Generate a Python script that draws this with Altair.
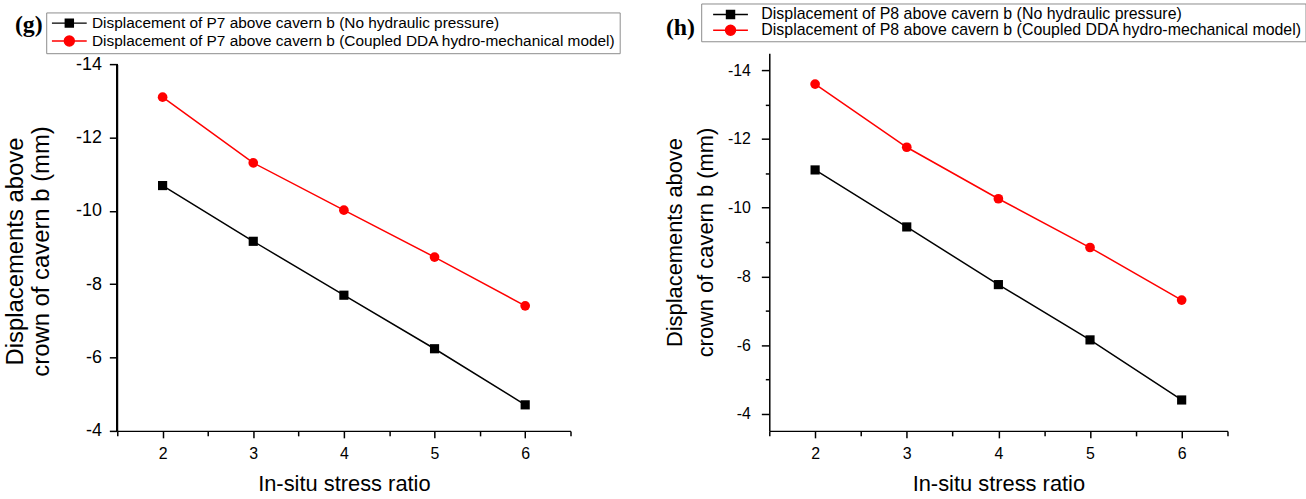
import altair as alt
import pandas as pd

# In-situ stress ratio (x) and crown displacement in mm (y)
stress_ratio = [2, 3, 4, 5, 6]

p7_no_pressure = [-10.69, -9.17, -7.70, -6.24, -4.71]
p7_coupled = [-13.10, -11.31, -10.02, -8.74, -7.41]
p8_no_pressure = [-11.10, -9.44, -7.76, -6.15, -4.40]
p8_coupled = [-13.60, -11.76, -10.26, -8.84, -7.31]

x_ticks = [1.5, 2, 2.5, 3, 3.5, 4, 4.5, 5, 5.5, 6, 6.5]
y_ticks = list(range(-14, -3))

FONT = "Liberation Sans"
BLACK = "#000000"
RED = "#ff0000"

# legend keys: a short line through the marker, as one custom symbol path
KEY_SQUARE = "M-3.5,0H3.5M-0.8,-0.8H0.8V0.8H-0.8Z"
KEY_CIRCLE = "M-3.5,0H3.5M-1,0A1,1,0,1,0,1,0A1,1,0,1,0,-1,0Z"


def panel(point, no_pressure, coupled, y_domain, width, tag, tag_dx, tag_dy,
          legend_box, y_style, axis_from=None):
    names = [
        f"Displacement of {point} above cavern b (No hydraulic pressure)",
        f"Displacement of {point} above cavern b (Coupled DDA hydro-mechanical model)",
    ]
    df = pd.DataFrame({
        "ratio": stress_ratio * 2,
        "disp": no_pressure + coupled,
        "series": [names[0]] * len(stress_ratio) + [names[1]] * len(stress_ratio),
    })

    x_axis = alt.Axis(
        values=x_ticks,
        labelExpr="datum.value % 1 === 0 ? toString(datum.value) : ''",
        tickSize={"condition": {"test": "datum.value % 1 === 0", "value": 7}, "value": 5},
        labelFontSize=16, labelPadding=8,
        title="In-situ stress ratio", titleFontSize=22, titlePadding=12,
    )
    y_axis = alt.Axis(
        values=y_ticks,
        labelExpr="datum.value % 2 === 0 ? toString(datum.value) : ''",
        tickSize={"condition": {"test": "datum.value % 2 === 0", "value": 8}, "value": 4},
        title=["Displacements above", "crown of cavern b (mm)"],
        domain=axis_from is None,
        **y_style,
    )

    base = alt.Chart(df).encode(
        x=alt.X("ratio:Q", scale=alt.Scale(domain=[1.5, 6.5], nice=False, zero=False), axis=x_axis),
        y=alt.Y("disp:Q", scale=alt.Scale(domain=y_domain, reverse=True, nice=False, zero=False), axis=y_axis),
    )

    colour = alt.Scale(domain=names, range=[BLACK, RED])
    legend = alt.Legend(
        title=None, orient="none", strokeColor="#8c8c8c", padding=3, rowPadding=0,
        labelFont=FONT, labelColor=BLACK, labelLimit=900,
        symbolSize=100, symbolStrokeWidth=1.5, symbolOpacity=1,
        **legend_box,
    )

    line_black = base.mark_line(strokeWidth=1.5, color=BLACK).transform_filter(
        alt.datum.series == names[0]
    )
    line_red = base.mark_line(strokeWidth=1.5, color=RED).transform_filter(
        alt.datum.series == names[1]
    )
    squares = base.mark_point(shape="square", filled=True, size=85, color=BLACK, opacity=1).transform_filter(
        alt.datum.series == names[0]
    )
    circles = base.mark_point(shape="circle", filled=True, size=95, color=RED, opacity=1).transform_filter(
        alt.datum.series == names[1]
    )
    # invisible layer that carries the legend keys
    keys = base.mark_point(filled=True).encode(
        fill=alt.Fill("series:N", scale=colour, legend=legend),
        stroke=alt.Stroke("series:N", scale=colour, legend=legend),
        shape=alt.Shape("series:N", scale=alt.Scale(domain=names, range=[KEY_SQUARE, KEY_CIRCLE]), legend=legend),
        opacity=alt.value(0),
    )

    layers = [line_black, line_red, squares, circles, keys]
    if axis_from is not None:
        # the y axis line runs only over the labelled range
        axis_line = alt.Chart(df).mark_rule(color=BLACK, strokeWidth=1.5).encode(
            x=alt.XDatum(1.5),
            y=alt.YDatum(axis_from[0]),
            y2=alt.Y2Datum(axis_from[1]),
        )
        layers.append(axis_line)

    return alt.layer(*layers).properties(
        width=width,
        height=380,
        title=alt.TitleParams(
            tag, anchor="start", frame="group", font="Liberation Serif",
            fontSize=24, fontWeight="bold", color=BLACK, dx=tag_dx, dy=tag_dy,
        ),
    )


left = panel(
    "P7", p7_no_pressure, p7_coupled, [-14.3, -4], 456, "(g)", -103, 29,
    dict(legendX=-71.5, legendY=-41, labelFontSize=15.5, symbolOffset=12.5, labelOffset=15),
    dict(labelFontSize=18, labelPadding=8, titleFontSize=24, titleLineHeight=26,
         titlePadding=22, titleY=199),
    axis_from=(-14, -4),
)
right = panel(
    "P8", p8_no_pressure, p8_coupled, [-14.5, -3.5], 461, "(h)", -104, 41,
    dict(legendX=-68.5, legendY=-50, labelFontSize=16, symbolOffset=18.5, labelOffset=23),
    dict(labelFontSize=16, labelPadding=11, titleFontSize=22, titleLineHeight=31,
         titlePadding=10),
)

chart = alt.hconcat(left, right, spacing=200, bounds="flush").resolve_scale(
    fill="independent", stroke="independent", shape="independent",
).resolve_legend(
    fill="independent", stroke="independent", shape="independent",
).properties(
    padding={"left": 3, "top": 1, "right": 0, "bottom": 0},
).configure_view(
    stroke=None,
).configure_axis(
    grid=False, domainColor=BLACK, domainWidth=1.5, tickColor=BLACK, tickWidth=1.5,
    labelColor=BLACK, titleColor=BLACK, labelFont=FONT, titleFont=FONT,
    titleFontWeight="normal",
)

chart.save("out.html", embed_options={"renderer": "svg", "actions": False})
